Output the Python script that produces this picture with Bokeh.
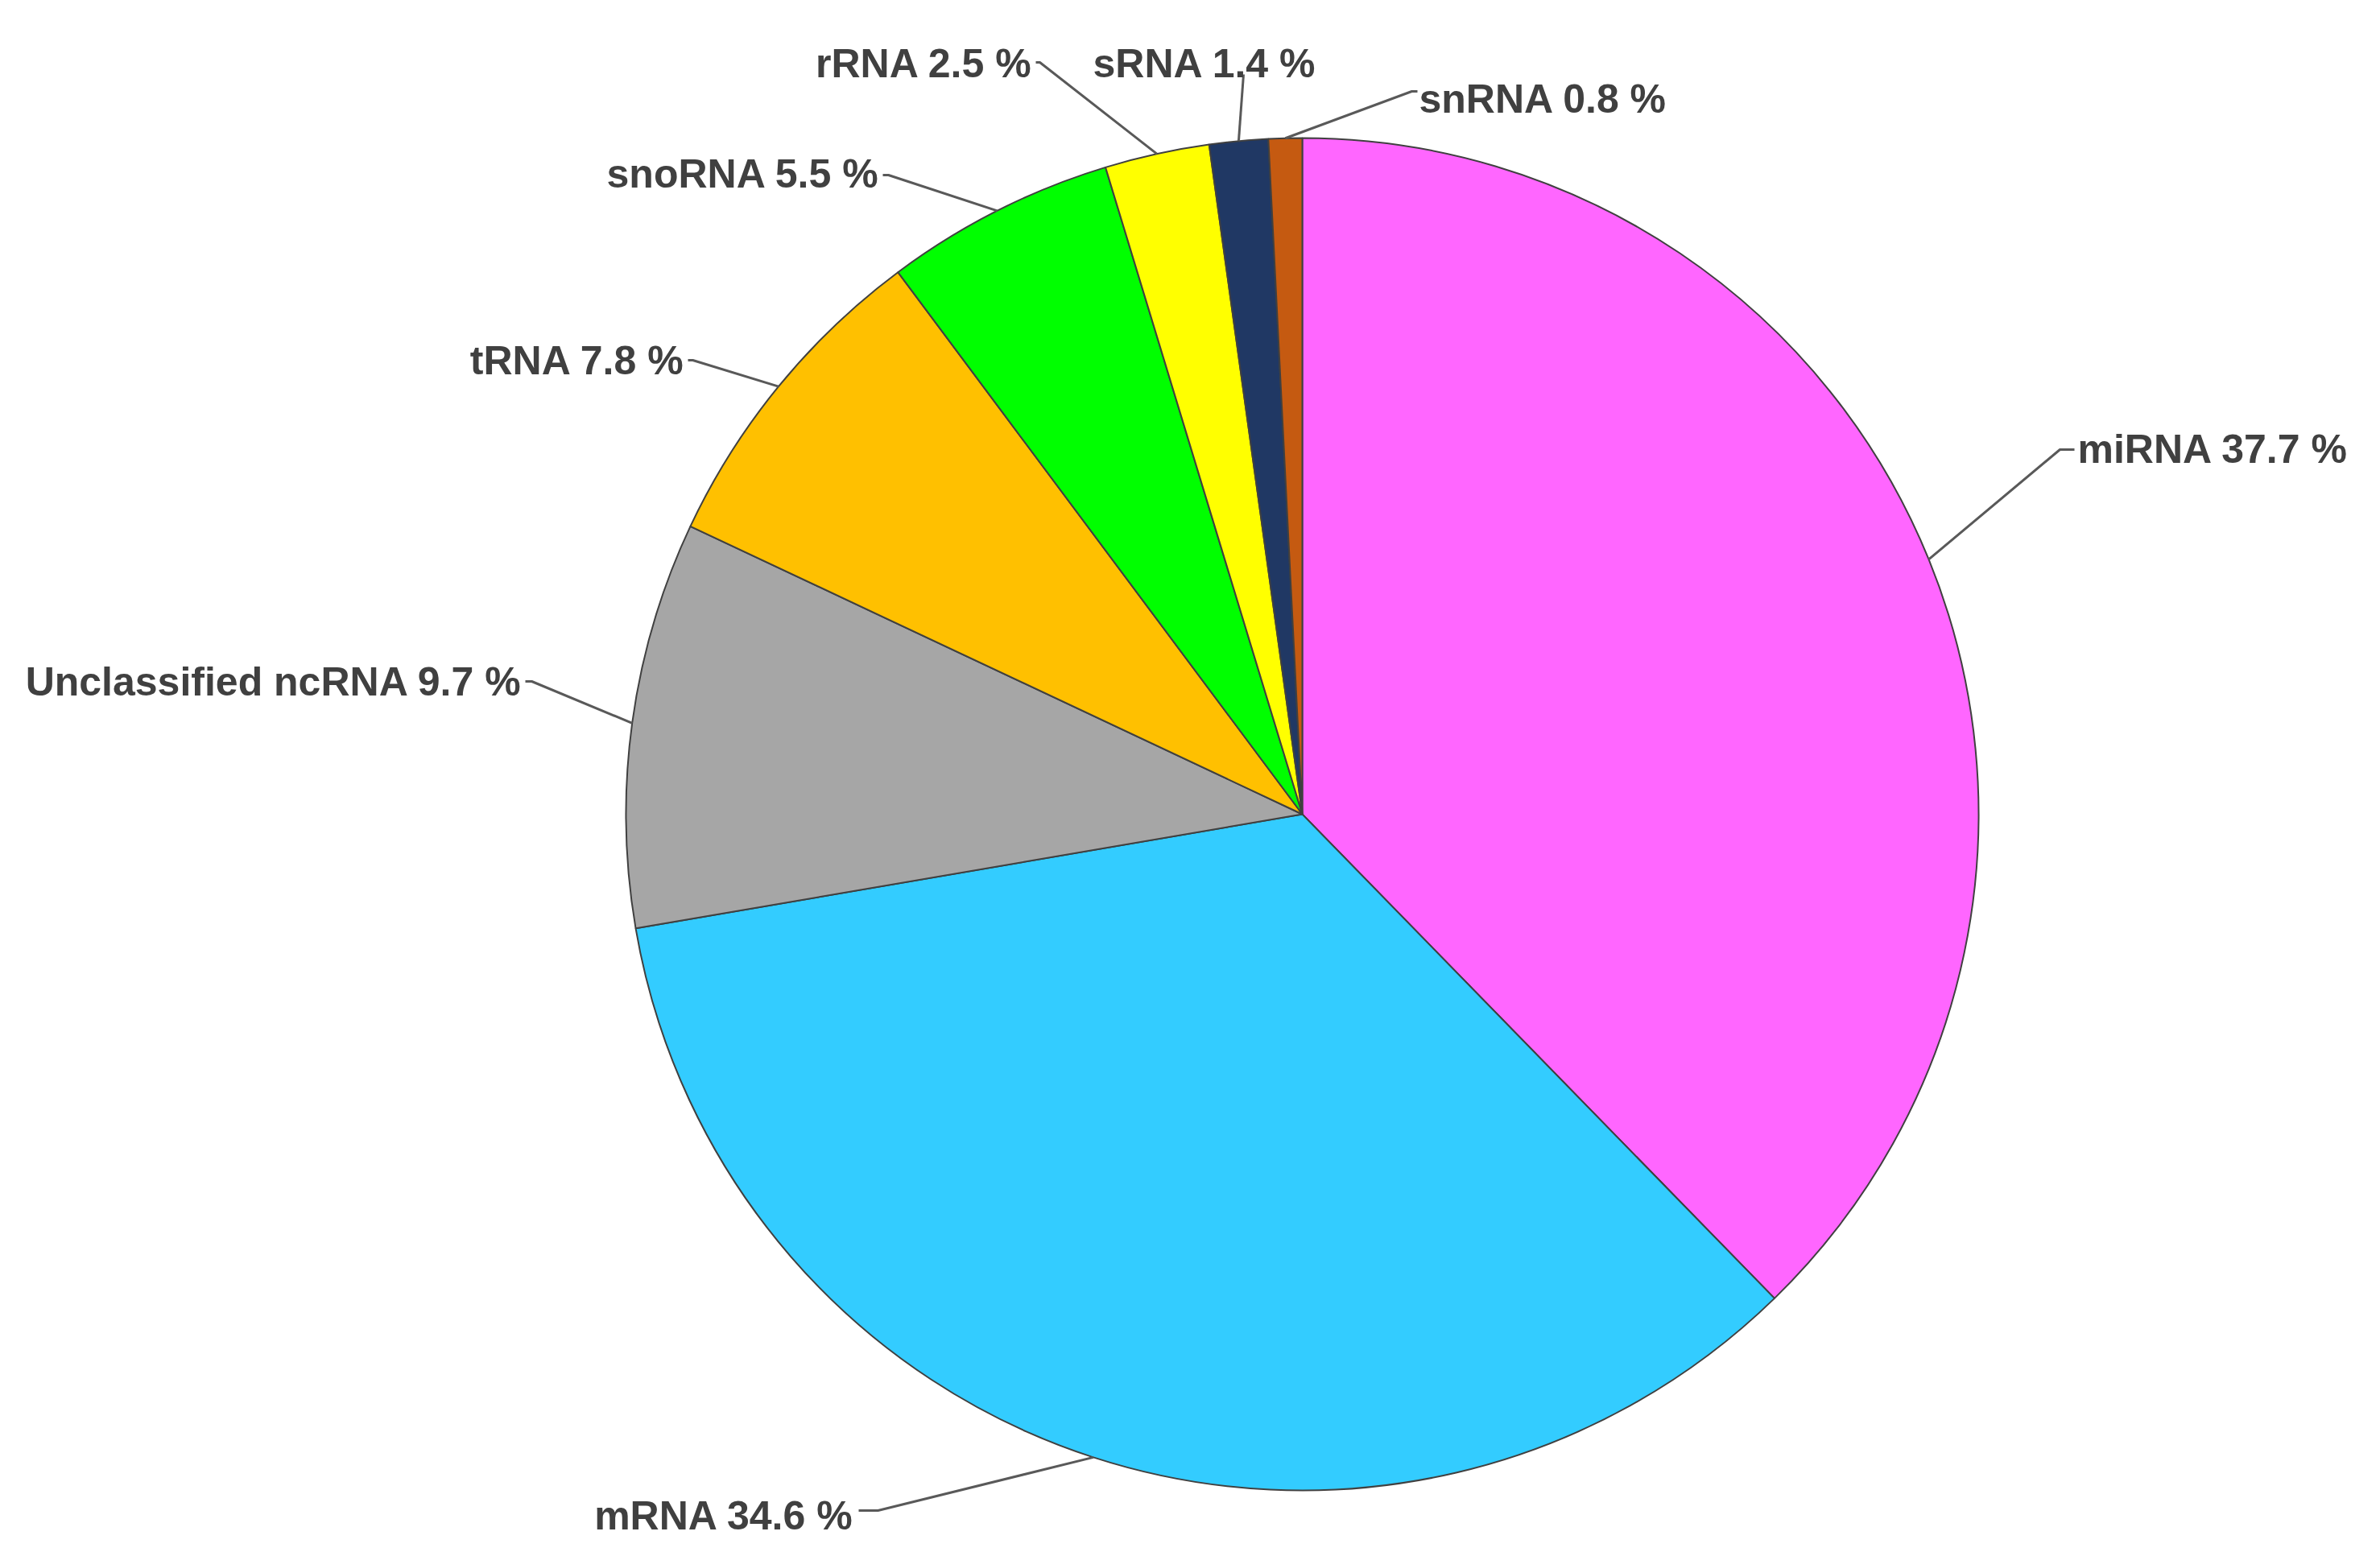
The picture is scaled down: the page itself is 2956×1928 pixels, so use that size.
import math
from bokeh.plotting import figure
from bokeh.models import Range1d, ColumnDataSource
from bokeh.core.properties import value
from bokeh.embed import file_html
from bokeh.resources import INLINE

# ---- data ----
categories = ["miRNA", "mRNA", "Unclassified ncRNA", "tRNA", "snoRNA", "rRNA", "sRNA", "snRNA"]
percents = [37.7, 34.6, 9.7, 7.8, 5.5, 2.5, 1.4, 0.8]
colors = ["#FF66FF", "#33CCFF", "#A6A6A6", "#FFC000", "#00FF00", "#FFFF00", "#203864", "#C55A11"]

# ---- layout (screen pixel coordinates of the page) ----
W, H = 2940, 1912
CX, CY, R = 1617, 1011, 840
# label layout: (elbow x, elbow y, end x, end y, text x, text baseline y, align)
label_layout = [
    (2558, 558, 2576, 558, 2580, 557, "left"),
    (1090, 1876, 1066, 1876, 1060, 1882, "right"),
    (660, 846, 652, 846, 648, 846, "right"),
    (860, 447, 854, 447, 850, 447, "right"),
    (1103, 217, 1096, 217, 1092, 215, "right"),
    (1291, 77, 1286, 77, 1282, 78, "right"),
    (1544, 92, 1544, 92, 1357, 78, "left"),
    (1753, 113, 1760, 113, 1762, 122, "left"),
]

def fy(sy):
    return 1928 - sy

p = figure(width=W, height=H, output_backend="svg", toolbar_location=None,
           x_range=Range1d(0, W), y_range=Range1d(1928 - H, 1928),
           min_border=0, match_aspect=False)
p.axis.visible = False
p.grid.visible = False
p.outline_line_color = None
p.background_fill_color = "white"

total = sum(percents)
starts, ends, mids = [], [], []
cum = 0.0
for v in percents:
    a0 = math.pi / 2 - cum / total * 2 * math.pi
    cum += v
    a1 = math.pi / 2 - cum / total * 2 * math.pi
    starts.append(a0)
    ends.append(a1)
    mids.append((a0 + a1) / 2)

src = ColumnDataSource(dict(start=starts, end=ends, color=colors,
                            x=[CX] * len(percents), y=[fy(CY)] * len(percents)))
p.wedge(x="x", y="y", radius=R, start_angle="start", end_angle="end", direction="clock",
        fill_color="color", line_color="#404040", line_width=2, source=src)

xs, ys, tx, ty, tt, ta = [], [], [], [], [], []
for cat, v, m, lay in zip(categories, percents, mids, label_layout):
    ex, ey, nx, ny, lx, ly, al = lay
    px = CX + R * math.cos(m)
    py = fy(CY) + R * math.sin(m)
    xs.append([px, ex, nx])
    ys.append([py, fy(ey), fy(ny)])
    tx.append(lx)
    ty.append(fy(ly))
    tt.append(f"{cat} {v} %")
    ta.append(al)

p.multi_line(xs=xs, ys=ys, line_color="#595959", line_width=3)
tsrc = ColumnDataSource(dict(x=tx, y=ty, text=tt, align=ta))
p.text(x="x", y="y", text="text", text_align="align", text_baseline="alphabetic",
       text_font=value("Liberation Sans"), text_font_style="bold", text_font_size="50px",
       text_color="#404040", source=tsrc)

open("out.html", "w").write(file_html(p, INLINE))
